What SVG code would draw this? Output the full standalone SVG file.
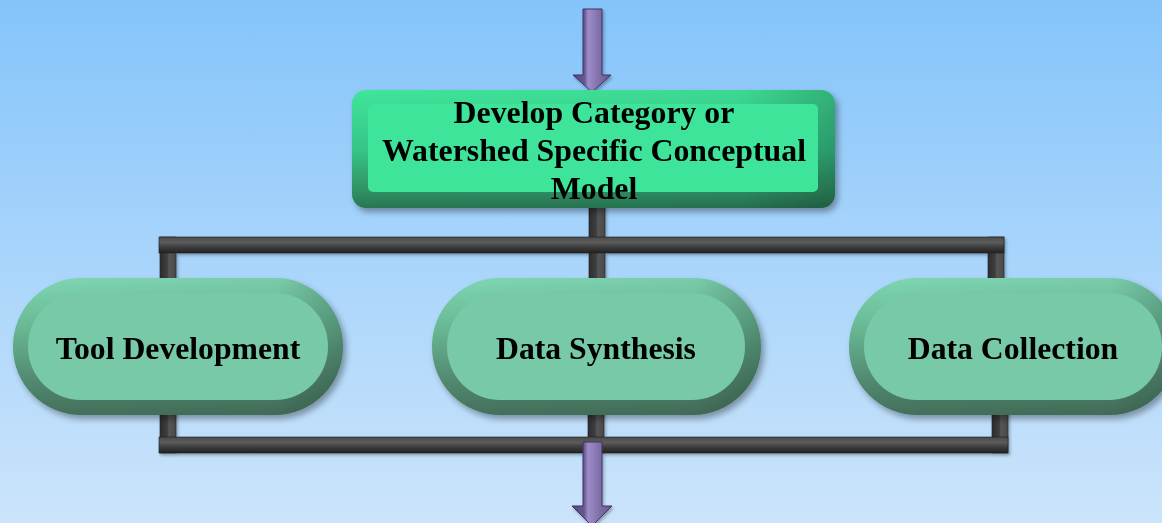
<svg xmlns="http://www.w3.org/2000/svg" width="1162" height="523" viewBox="0 0 1162 523">
<defs>
<linearGradient id="bg" x1="0" y1="0" x2="0" y2="1">
<stop offset="0" stop-color="#84c4fa"/>
<stop offset="0.5" stop-color="#a9d5fb"/>
<stop offset="1" stop-color="#cbe4fb"/>
</linearGradient>
<linearGradient id="pillOuter" x1="0" y1="0" x2="0" y2="1">
<stop offset="0" stop-color="#7fd7b3"/>
<stop offset="0.35" stop-color="#69b995"/>
<stop offset="0.7" stop-color="#548f74"/>
<stop offset="1" stop-color="#44705b"/>
</linearGradient>
<linearGradient id="shadeR" x1="0" y1="0" x2="1" y2="0">
<stop offset="0" stop-color="#000" stop-opacity="0"/>
<stop offset="0.8" stop-color="#000" stop-opacity="0.05"/>
<stop offset="1" stop-color="#000" stop-opacity="0.22"/>
</linearGradient>
<linearGradient id="boxOuter" x1="0" y1="0" x2="0" y2="1">
<stop offset="0" stop-color="#3fe59b"/>
<stop offset="0.5" stop-color="#37c587"/>
<stop offset="0.88" stop-color="#2e8d61"/>
<stop offset="1" stop-color="#287553"/>
</linearGradient>
<linearGradient id="barH" x1="0" y1="0" x2="0" y2="1">
<stop offset="0" stop-color="#4a4a4a"/>
<stop offset="0.35" stop-color="#5c5c5c"/>
<stop offset="0.6" stop-color="#3f3f3f"/>
<stop offset="1" stop-color="#222"/>
</linearGradient>
<linearGradient id="barV" x1="0" y1="0" x2="1" y2="0">
<stop offset="0" stop-color="#2e2e2e"/>
<stop offset="0.45" stop-color="#3e3e3e"/>
<stop offset="0.55" stop-color="#555"/>
<stop offset="1" stop-color="#4a4a4a"/>
</linearGradient>
<linearGradient id="arrowG" x1="0" y1="0" x2="1" y2="0">
<stop offset="0" stop-color="#56487f"/>
<stop offset="0.3" stop-color="#66578f"/>
<stop offset="0.4" stop-color="#9d8cc8"/>
<stop offset="0.65" stop-color="#8373ad"/>
<stop offset="1" stop-color="#63558f"/>
</linearGradient>
<filter id="sh" x="-10%" y="-10%" width="125%" height="130%">
<feDropShadow dx="3" dy="4" stdDeviation="3" flood-color="#000" flood-opacity="0.35"/>
</filter>
<filter id="shs" x="-10%" y="-20%" width="125%" height="160%">
<feDropShadow dx="1.5" dy="2" stdDeviation="1.5" flood-color="#000" flood-opacity="0.3"/>
</filter>
</defs>
<style>
.t{font-family:"Liberation Serif","Times New Roman",serif;font-weight:bold;fill:#000;text-anchor:middle}
.bh{fill:url(#barH);stroke:#1e1e1e;stroke-width:0.6}
.bv{fill:url(#barV);stroke:#1e1e1e;stroke-width:0.6}
.arr{fill:url(#arrowG);stroke:#3f3366;stroke-width:1}
.po{fill:url(#pillOuter)}
.pr{fill:url(#shadeR)}
.pf{fill:#77c9a8}
</style>
<rect width="1162" height="523" fill="url(#bg)"/>

<g id="connectors" filter="url(#shs)">
<rect class="bv" x="160" y="237" width="16" height="45"/>
<rect class="bv" x="589" y="205" width="16" height="77"/>
<rect class="bv" x="988" y="237" width="16" height="45"/>
<rect class="bh" x="159" y="237" width="845" height="16"/>
<rect class="bv" x="160" y="410" width="16" height="43"/>
<rect class="bv" x="588" y="410" width="16" height="43"/>
<rect class="bv" x="992" y="410" width="16" height="43"/>
<rect class="bh" x="159" y="437" width="849" height="16"/>
<polygon class="arr" points="583,9 602,9 602,75 611,75 592,92 573,75 583,75"/>
<polygon class="arr" points="583,442 602,442 602,506 612,506 592,526 572,506 583,506"/>
</g>

<g id="node-develop" filter="url(#sh)">
<rect x="352" y="90" width="483" height="118" rx="14" fill="url(#boxOuter)"/>
<rect x="352" y="90" width="483" height="118" rx="14" fill="url(#shadeR)"/>
<rect x="368" y="104" width="450" height="88" rx="5" fill="#3ee49a"/>
<text class="t" x="594" y="123" font-size="31.8">Develop Category or</text>
<text class="t" x="594" y="161" font-size="31.8">Watershed Specific Conceptual</text>
<text class="t" x="594" y="199" font-size="31.8">Model</text>
</g>

<g id="node-tool" filter="url(#sh)">
<rect class="po" x="13" y="278" width="330" height="137" rx="68"/>
<rect class="pr" x="13" y="278" width="330" height="137" rx="68"/>
<rect class="pf" x="28" y="293" width="300" height="107" rx="53"/>
<text class="t" x="178" y="359" font-size="31.7">Tool Development</text>
</g>

<g id="node-synthesis" filter="url(#sh)">
<rect class="po" x="432" y="278" width="329" height="137" rx="68"/>
<rect class="pr" x="432" y="278" width="329" height="137" rx="68"/>
<rect class="pf" x="447" y="293" width="298" height="107" rx="53"/>
<text class="t" x="596" y="359" font-size="31.7">Data Synthesis</text>
</g>

<g id="node-collection" filter="url(#sh)">
<rect class="po" x="849" y="278" width="329" height="137" rx="68"/>
<rect class="pr" x="849" y="278" width="329" height="137" rx="68"/>
<rect class="pf" x="864" y="293" width="298" height="107" rx="53"/>
<text class="t" x="1013" y="359" font-size="31.7">Data Collection</text>
</g>
</svg>
